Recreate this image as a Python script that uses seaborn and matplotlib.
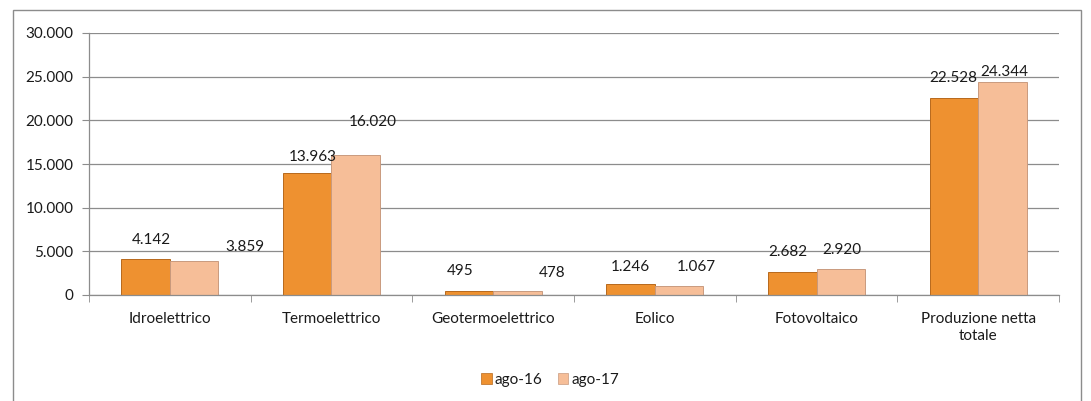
import numpy as np
import pandas as pd
import matplotlib
matplotlib.use("Agg")
import matplotlib.pyplot as plt
import matplotlib.patches as mpatches
from matplotlib.ticker import FuncFormatter
import seaborn as sns

# Data
categories = ["Idroelettrico", "Termoelettrico", "Geotermoelettrico",
              "Eolico", "Fotovoltaico", "Produzione netta\ntotale"]
ago16 = [4142, 13963, 495, 1246, 2682, 22528]
ago17 = [3859, 16020, 478, 1067, 2920, 24344]
series = ["ago-16", "ago-17"]

# label offsets (pixels) to mimic the original placement
off16 = [(6, 19), (6, 16), (-9, 20), (0, 17), (-4, 20), (-1, 20)]
off17 = [(51, 14), (17, 33), (35, 18), (17, 19), (1, 19), (2, 10)]

colors = ["#EE9130", "#F6BE98"]
edges = ["#B8691C", "#C99A7E"]
FS = 11

df = pd.DataFrame({
    "categoria": categories * 2,
    "serie": [series[0]] * len(categories) + [series[1]] * len(categories),
    "valore": ago16 + ago17,
})

sns.set_style("white")
plt.rcParams["font.family"] = ["Lato", "DejaVu Sans"]
plt.rcParams["text.color"] = "#1a1a1a"
plt.rcParams["xtick.color"] = "#1a1a1a"
plt.rcParams["ytick.color"] = "#1a1a1a"

fig = plt.figure(figsize=(10.91, 4.01), dpi=100)
ax = fig.add_axes([89 / 1091, 1 - 295 / 401, 970 / 1091, 262 / 401])

sns.barplot(data=df, x="categoria", y="valore", hue="serie",
            palette=colors, saturation=1, width=0.6, ax=ax, legend=False)

for i, cont in enumerate(ax.containers):
    offs = off16 if i == 0 else off17
    vals = ago16 if i == 0 else ago17
    for bar, v, (dx, dy) in zip(cont, vals, offs):
        bar.set_edgecolor(edges[i])
        bar.set_linewidth(0.7)
        ax.annotate(f"{v:,}".replace(",", "."),
                    (bar.get_x() + bar.get_width() / 2, bar.get_height()),
                    xytext=(dx, dy), textcoords="offset pixels",
                    ha="center", va="center", fontsize=FS)

ax.set_ylim(0, 30000)
ax.set_xlim(-0.5, len(categories) - 0.5)
ax.set_yticks(np.arange(0, 30001, 5000))
ax.yaxis.set_major_formatter(FuncFormatter(lambda v, p: f"{int(v):,}".replace(",", ".")))
ax.grid(axis="y", color="#8c8c8c", linewidth=0.9)
ax.set_axisbelow(True)
ax.set_xlabel("")
ax.set_ylabel("")

for s in ["top", "right"]:
    ax.spines[s].set_visible(False)
for s in ["left", "bottom"]:
    ax.spines[s].set_color("#8c8c8c")
    ax.spines[s].set_linewidth(0.9)

ax.tick_params(axis="y", length=5, color="#8c8c8c", direction="out",
               left=True, labelsize=FS, pad=6, labelcolor="#1a1a1a")
ax.tick_params(axis="x", which="major", length=0, labelsize=FS, pad=12,
               labelcolor="#1a1a1a")
ax.set_xticks(np.arange(-0.5, len(categories), 1.0), minor=True)
ax.tick_params(axis="x", which="minor", length=5, color="#8c8c8c",
               direction="out", bottom=True)
for t in ax.get_xticklabels():
    t.set_linespacing(1.3)

# legend
handles = [mpatches.Patch(facecolor=c, edgecolor=e, linewidth=0.5)
           for c, e in zip(colors, edges)]
fig.legend(handles, series, loc="center", bbox_to_anchor=(550 / 1091, 1 - 380 / 401),
           ncol=2, frameon=False, fontsize=FS, handlelength=0.7, handleheight=0.7,
           handletextpad=0.2, columnspacing=1.0)

# outer chart border
fig.patches.append(mpatches.Rectangle((13 / 1091, -0.05), 1068 / 1091, 1.05 - 10 / 401,
                                      transform=fig.transFigure, fill=False,
                                      edgecolor="#8c8c8c", linewidth=1.0))

fig.savefig("out.png", dpi=100)
